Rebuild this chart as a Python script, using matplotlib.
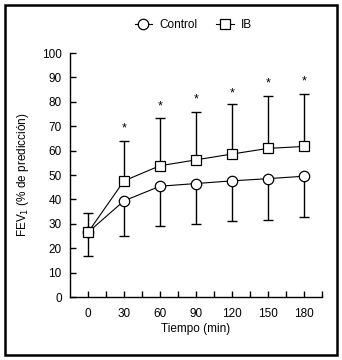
import matplotlib.pyplot as plt
from matplotlib.patches import Rectangle

plt.rcParams['font.family'] = ['Liberation Sans', 'DejaVu Sans']

# Tiempo (min)
tiempo = [0, 30, 60, 90, 120, 150, 180]

# FEV1 (% de predicción)
control = [26.5, 39.4, 45.4, 46.5, 47.6, 48.5, 49.5]
control_err_inf = [9.8, 14.5, 16.4, 16.7, 16.6, 17.1, 16.8]   # solo hacia abajo
ib = [26.5, 47.6, 53.8, 56.2, 58.6, 60.9, 61.7]
ib_err_sup = [8.0, 16.2, 19.4, 19.8, 20.7, 21.6, 21.3]        # solo hacia arriba
asterisco_y = [69, 78.3, 80.8, 83.6, 87.4, 88.3]
asterisco_x = tiempo[1:]

fig = plt.figure(figsize=(3.42, 3.6), dpi=100)
ax = fig.add_axes([70 / 342, 1 - 297 / 360, 252 / 342, 244 / 360])

# barras de error
ax.errorbar(tiempo, control, yerr=[control_err_inf, [0] * 7], fmt='none',
            ecolor='black', elinewidth=1, capsize=3.5, capthick=1, zorder=2)
ax.errorbar(tiempo, ib, yerr=[[0] * 7, ib_err_sup], fmt='none',
            ecolor='black', elinewidth=1, capsize=3.5, capthick=1, zorder=2)

ax.plot(tiempo, control, '-o', color='black', lw=0.8, markersize=7.5,
        mfc='white', mec='black', mew=0.9, label='Control', zorder=3)
ax.plot(tiempo, ib, '-s', color='black', lw=0.8, markersize=7.5,
        mfc='white', mec='black', mew=0.9, label='IB', zorder=4)

for x, y in zip(asterisco_x, asterisco_y):
    ax.text(x, y, '*', ha='center', va='center', fontsize=9)

ax.set_xlim(-15, 195)
ax.set_ylim(0, 100)
ax.set_xticks(tiempo)
ax.set_xticks([15, 45, 75, 105, 135, 165, 195], minor=True)
ax.set_yticks(range(0, 101, 10))
ax.tick_params(axis='both', which='both', direction='in', length=4,
               width=1, labelsize=8.5, pad=6)
ax.tick_params(axis='x', which='both', pad=8)
for s in ['top', 'right']:
    ax.spines[s].set_visible(False)
for s in ['left', 'bottom']:
    ax.spines[s].set_linewidth(1)

ax.set_xlabel('Tiempo (min)', fontsize=8.5, labelpad=2)
ax.set_ylabel('FEV$_1$ (% de predicción)', fontsize=8.5, labelpad=8)

ax.legend(loc='center', bbox_to_anchor=(0.49, 1.115), ncol=2, frameon=False,
          fontsize=8.5, handlelength=1.5, columnspacing=1.6, handletextpad=0.6)

# marco exterior
fig.patches.append(Rectangle((5 / 342, 5 / 360), 332 / 342, 350 / 360,
                             transform=fig.transFigure, fill=False,
                             edgecolor='black', lw=1.8))

fig.savefig('out.png', dpi=100)
